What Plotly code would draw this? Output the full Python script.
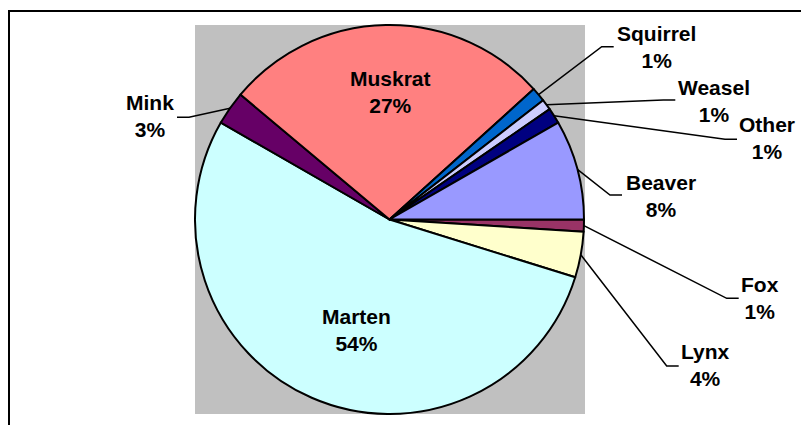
import math
import plotly.graph_objects as go

# Fur harvest share by species (percent), clockwise from 3 o'clock
species = ["Fox", "Lynx", "Marten", "Mink", "Muskrat", "Squirrel", "Weasel", "Other", "Beaver"]
shares = [1.0, 3.8, 53.5, 2.8, 27.2, 1.2, 0.9, 1.3, 8.3]
colors = ["#993366", "#FFFFCC", "#CCFFFF", "#660066", "#FF8080",
          "#0066CC", "#CCCCFF", "#000080", "#9999FF"]

W, H = 801, 425
CX, CY, R = 389.5, 219.5, 194.5
START_DEG = 90  # first slice begins at 3 o'clock, running clockwise

# Label placement (pixels): label centre, and leader-line elbow (None = label inside slice)
label_pos = {
    "Fox": (760, 298), "Lynx": (705, 365), "Marten": (356, 330), "Mink": (150, 116),
    "Muskrat": (390, 92), "Squirrel": (656, 47), "Weasel": (714, 101),
    "Other": (767, 138), "Beaver": (661, 196),
}
elbow_pos = {
    "Fox": (726.7, 298.3), "Lynx": (666.7, 366), "Mink": (189, 117.3),
    "Squirrel": (601.7, 46.7), "Weasel": (663.3, 100), "Other": (725, 139.3),
    "Beaver": (610, 195),
}
TAIL = 12


def px(x):
    return x / W


def py(y):
    return 1 - y / H


fig = go.Figure(go.Pie(
    labels=species,
    values=shares,
    sort=False,
    direction="clockwise",
    rotation=START_DEG,
    marker=dict(colors=colors, line=dict(color="black", width=2)),
    textinfo="none",
    hoverinfo="label+percent",
    showlegend=False,
    domain=dict(x=[px(CX - R), px(CX + R)], y=[py(CY + R), py(CY - R)]),
))

shapes = [
    # grey plot area behind the pie
    dict(type="rect", xref="paper", yref="paper", layer="below",
         x0=px(CX - R), x1=px(CX + R + 1), y0=py(CY + R), y1=py(CY - R),
         fillcolor="#C0C0C0", line=dict(width=0)),
    # chart frame
    dict(type="rect", xref="paper", yref="paper", layer="above",
         x0=px(9), x1=px(W + 30), y0=py(H + 30), y1=py(11),
         line=dict(color="black", width=2), fillcolor="rgba(0,0,0,0)"),
]

annotations = []
total = sum(shares)
cum = 0.0
for name, val in zip(species, shares):
    mid = START_DEG + (cum + val / 2) / total * 360
    cum += val
    pct = round(val / total * 100)
    lx, ly = label_pos[name]
    annotations.append(dict(
        x=px(lx), y=py(ly), xref="paper", yref="paper",
        text=f"{name}<br>{pct}%", showarrow=False,
        xanchor="center", yanchor="middle", align="center",
        font=dict(family="Liberation Sans, Arial, sans-serif", size=21,
                  color="black", weight="bold"),
    ))
    if name in elbow_pos:
        a = math.radians(mid)
        sx, sy = CX + R * math.sin(a), CY - R * math.cos(a)
        ex, ey = elbow_pos[name]
        tx = ex + (TAIL if lx > CX else -TAIL)
        path = (f"M {px(sx)},{py(sy)} L {px(ex)},{py(ey)} L {px(tx)},{py(ey)}")
        shapes.append(dict(type="path", xref="paper", yref="paper", path=path,
                           line=dict(color="black", width=1.5), layer="above"))

fig.update_layout(
    width=W, height=H,
    margin=dict(l=0, r=0, t=0, b=0),
    paper_bgcolor="white",
    shapes=shapes,
    annotations=annotations,
)

fig.write_html("out.html")
